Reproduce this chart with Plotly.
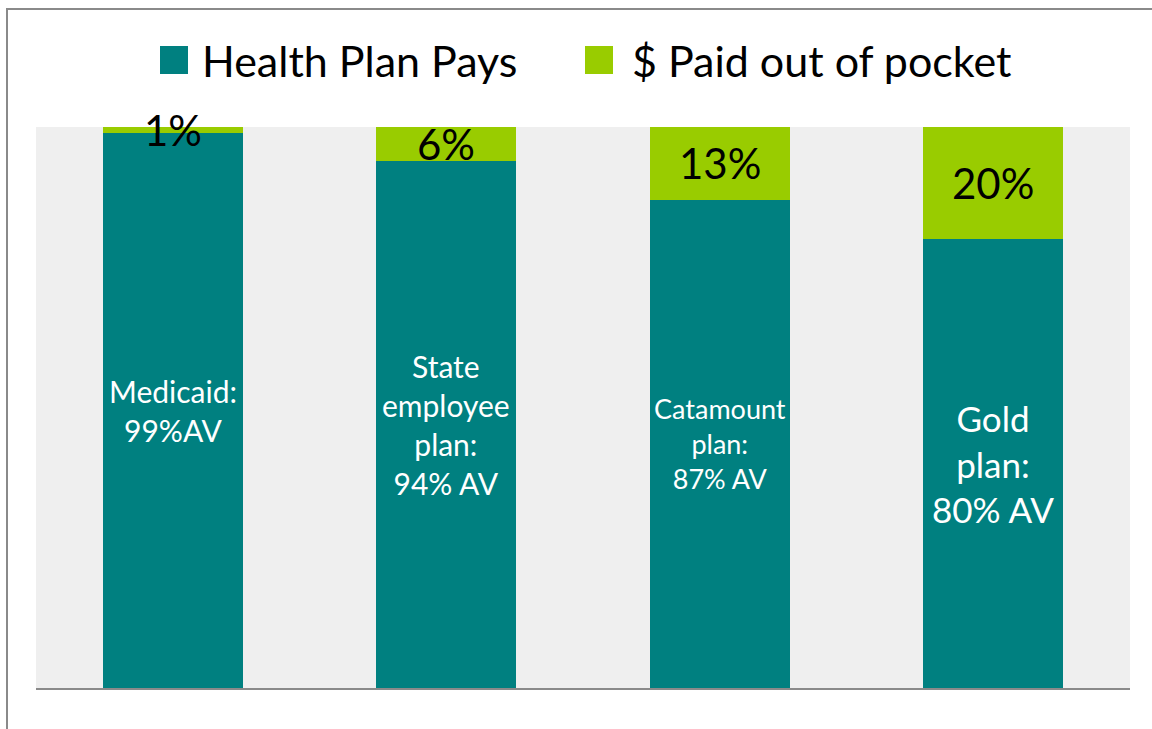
import plotly.graph_objects as go

# ---- data ----
categories = ["Medicaid", "State employee plan", "Catamount plan", "Gold plan"]
plan_pays = [99, 94, 87, 80]
out_of_pocket = [1, 6, 13, 20]
series_names = ["Health Plan Pays", "$ Paid out of pocket"]
plan_labels = ["Medicaid:<br>99%AV", "State<br>employee<br>plan:<br>94% AV",
               "Catamount<br>plan:<br>87% AV", "Gold<br>plan:<br>80% AV"]
oop_labels = ["1%", "6%", "13%", "20%"]

TEAL = "#008080"
GREEN = "#99cc00"
FONT = "Lato, 'Open Sans', sans-serif"

W, H = 1152, 729
ML, MR, MT, MB = 36, 22, 127, 41
PW = W - ML - MR
PH = H - MT - MB


def px(x):
    return (x - ML) / PW


def py(y):
    return (H - MB - y) / PH


fig = go.Figure()
fig.add_trace(go.Bar(x=categories, y=plan_pays, name=series_names[0],
                     marker=dict(color=TEAL, line=dict(width=0)), showlegend=False,
                     hoverinfo="skip"))
fig.add_trace(go.Bar(x=categories, y=out_of_pocket, name=series_names[1],
                     marker=dict(color=GREEN, line=dict(width=0)), showlegend=False,
                     hoverinfo="skip"))

annotations = []
teal_sizes = [30, 30, 27, 35]
for c, p, lab, s in zip(categories, plan_pays, plan_labels, teal_sizes):
    annotations.append(dict(x=c, y=p / 2, text=lab, showarrow=False,
                            font=dict(color="white", size=s, family=FONT),
                            xref="x", yref="y", align="center"))
for c, p, o, lab in zip(categories, plan_pays, out_of_pocket, oop_labels):
    annotations.append(dict(x=c, y=p + o / 2, text=lab, showarrow=False,
                            font=dict(color="black", size=42, family=FONT),
                            xref="x", yref="y", yanchor="middle"))

# manual legend
shapes = []
legend_items = [(160, TEAL, 202), (585, GREEN, 632)]
for (sx, col, tx), name in zip(legend_items, series_names):
    shapes.append(dict(type="rect", xref="paper", yref="paper",
                       x0=px(sx), x1=px(sx + 28), y0=py(74), y1=py(46),
                       fillcolor=col, line=dict(width=0)))
    annotations.append(dict(x=px(tx - 2), y=py(60), xref="paper", yref="paper",
                            text=name, showarrow=False, xanchor="left", yanchor="middle",
                            font=dict(color="black", size=43, family=FONT)))

# outer border
shapes.append(dict(type="rect", xref="paper", yref="paper",
                   x0=px(7), x1=px(1200), y0=py(780), y1=py(9),
                   line=dict(color="#8a8a8a", width=2), fillcolor="rgba(0,0,0,0)", layer="below"))

fig.update_layout(
    width=W, height=H,
    barmode="stack", bargap=0.488,
    margin=dict(l=ML, r=MR, t=MT, b=MB, pad=0),
    plot_bgcolor="#efefef", paper_bgcolor="white",
    xaxis=dict(showticklabels=False, showgrid=False, zeroline=False,
               showline=True, linecolor="#8a8a8a", linewidth=2, ticks=""),
    yaxis=dict(range=[0, 100], showticklabels=False, showgrid=False, zeroline=False,
               showline=False, ticks=""),
    annotations=annotations, shapes=shapes,
    font=dict(family=FONT),
)

fig.write_html("out.html", config={"displayModeBar": False},
               post_script="document.body.style.margin='0';document.body.style.overflow='hidden';")
